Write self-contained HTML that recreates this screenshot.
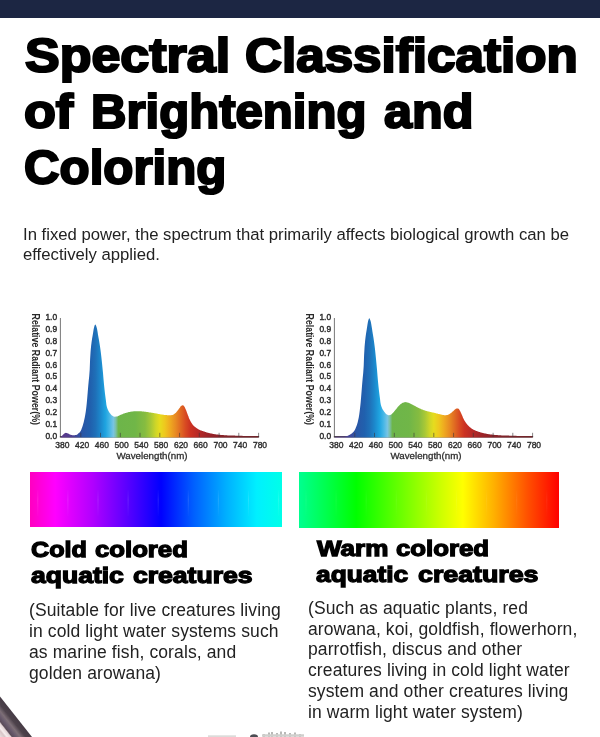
<!DOCTYPE html>
<html><head><meta charset="utf-8">
<style>
html,body{margin:0;padding:0;background:#fff;}
body{width:600px;height:737px;position:relative;overflow:hidden;font-family:"Liberation Sans",sans-serif;color:#000;}
.topbar{position:absolute;left:0;top:0;width:600px;height:17.6px;background:#1c2643;}
.tw{position:absolute;font-size:48px;line-height:56px;font-weight:bold;-webkit-text-stroke:2.2px #000;white-space:nowrap;transform-origin:0 0;}
.hw{position:absolute;font-size:22.3px;line-height:27px;font-weight:bold;-webkit-text-stroke:1.3px #000;white-space:nowrap;transform-origin:0 0;}
.sub{will-change:transform;position:absolute;left:23.4px;top:224.6px;font-size:16.7px;line-height:20px;color:#222;white-space:nowrap;}
.charts{will-change:transform;position:absolute;left:0;top:0;}
.yl{font-size:8.4px;fill:#2e2e2e;stroke:#2e2e2e;stroke-width:0.42px;text-anchor:end;}
.xl{font-size:8.5px;fill:#2e2e2e;stroke:#2e2e2e;stroke-width:0.38px;text-anchor:middle;}
.wl{font-size:9.8px;fill:#2e2e2e;stroke:#2e2e2e;stroke-width:0.3px;text-anchor:middle;}
.rl{font-size:10.2px;fill:#2a2a2a;font-weight:bold;}
.deco{position:absolute;left:0;top:0;}
.bar{position:absolute;}
.p{will-change:transform;position:absolute;font-size:17.5px;line-height:20.7px;letter-spacing:0.11px;color:#222;white-space:nowrap;}
</style></head><body>
<div class="topbar"></div>
<!--T-->
<span class="tw" style="left:25.0px;top:27.5px;transform:scaleX(1.0829)">Spectral</span>
<span class="tw" style="left:245.4px;top:27.5px;transform:scaleX(1.0663)">Classification</span>
<span class="tw" style="left:23.9px;top:84.0px;transform:scaleX(1.0870)">of</span>
<span class="tw" style="left:91.0px;top:84.0px;transform:scaleX(1.0226)">Brightening</span>
<span class="tw" style="left:384.0px;top:84.0px;transform:scaleX(1.0482)">and</span>
<span class="tw" style="left:24.0px;top:140.0px;transform:scaleX(1.0258)">Coloring</span>
<!--/T-->
<div class="sub">In fixed power, the spectrum that primarily affects biological growth can be<br>effectively applied.</div>

<div class="bar" style="left:30px;top:471.8px;width:252px;height:55.7px;background:linear-gradient(90deg,#ff00c0 0%,#ff00ff 10%,#b000ff 25%,#5000ff 40%,#0000ff 52%,#0060ff 65%,#00b0ff 78%,#00f0ff 90%,#00ffe8 100%);"></div>
<div class="bar" style="left:299px;top:472px;width:260px;height:55.5px;background:linear-gradient(90deg,#00ff90 0%,#00ff50 10%,#00ff00 22%,#70ff00 40%,#d0ff00 55%,#ffff00 63%,#ffb000 75%,#ff5000 88%,#ff0000 100%);"></div>

<!--C-->
<svg class="charts" width="600" height="737" viewBox="0 0 600 737">
<linearGradient id="g1" gradientUnits="userSpaceOnUse" x1="61.0" y1="0" x2="258.6" y2="0">
<stop offset="0.0000" stop-color="#5c3a8a"/>
<stop offset="0.0500" stop-color="#503e90"/>
<stop offset="0.0800" stop-color="#3c499b"/>
<stop offset="0.1050" stop-color="#2a55a5"/>
<stop offset="0.1500" stop-color="#2061ae"/>
<stop offset="0.1750" stop-color="#1f70b8"/>
<stop offset="0.2000" stop-color="#1c88cc"/>
<stop offset="0.2250" stop-color="#1fa4e0"/>
<stop offset="0.2450" stop-color="#45b6e6"/>
<stop offset="0.2650" stop-color="#78c4e4"/>
<stop offset="0.2775" stop-color="#7cc0a8"/>
<stop offset="0.2900" stop-color="#6db54a"/>
<stop offset="0.3750" stop-color="#70b648"/>
<stop offset="0.4250" stop-color="#86bc40"/>
<stop offset="0.4550" stop-color="#a8c836"/>
<stop offset="0.4800" stop-color="#cfd628"/>
<stop offset="0.5000" stop-color="#e6dc1e"/>
<stop offset="0.5250" stop-color="#eec81e"/>
<stop offset="0.5500" stop-color="#efac20"/>
<stop offset="0.5800" stop-color="#e88a22"/>
<stop offset="0.6050" stop-color="#e06a22"/>
<stop offset="0.6300" stop-color="#d84a22"/>
<stop offset="0.6550" stop-color="#cc3222"/>
<stop offset="0.6875" stop-color="#bb2a26"/>
<stop offset="0.7375" stop-color="#a02428"/>
<stop offset="0.8000" stop-color="#8a2228"/>
<stop offset="0.9000" stop-color="#7a242a"/>
<stop offset="1.0000" stop-color="#70262a"/>
</linearGradient>
<path d="M60.4 318 V437.4" fill="none" stroke="#686868" stroke-width="0.9"/>
<path d="M59.9 436.8 H259.1" fill="none" stroke="#4a4246" stroke-width="1.5"/>
<path d="M61.0 437.6 L61.0 436.7 L61.5 436.2 L62.0 435.8 L62.5 435.3 L63.0 434.8 L63.5 434.2 L64.0 433.7 L64.5 433.4 L65.0 433.1 L65.4 432.9 L65.9 432.8 L66.4 432.9 L66.9 433.0 L67.4 433.2 L67.9 433.4 L68.4 433.6 L68.9 433.9 L69.4 434.2 L69.9 434.5 L70.4 434.7 L70.9 434.8 L71.4 435.0 L71.9 435.1 L72.4 435.2 L72.9 435.3 L73.3 435.3 L73.8 435.3 L74.3 435.2 L74.8 435.2 L75.3 435.1 L75.8 435.0 L76.3 434.9 L76.8 434.7 L77.3 434.4 L77.8 434.0 L78.3 433.6 L78.8 433.1 L79.3 432.7 L79.8 432.2 L80.3 431.5 L80.8 430.8 L81.3 429.8 L81.7 428.6 L82.2 427.2 L82.7 425.7 L83.2 424.0 L83.7 422.2 L84.2 420.1 L84.7 417.8 L85.2 415.1 L85.7 411.9 L86.2 408.3 L86.7 403.8 L87.2 398.2 L87.7 392.3 L88.2 386.2 L88.7 381.0 L89.2 376.2 L89.7 369.7 L90.1 359.3 L90.6 351.3 L91.1 346.1 L91.6 342.0 L92.1 338.6 L92.6 335.8 L93.1 332.8 L93.6 329.6 L94.1 327.2 L94.6 325.6 L95.1 324.6 L95.6 324.7 L96.1 325.7 L96.6 327.2 L97.1 329.3 L97.6 332.1 L98.0 334.8 L98.5 337.5 L99.0 340.2 L99.5 343.2 L100.0 346.4 L100.5 350.0 L101.0 353.9 L101.5 358.3 L102.0 363.0 L102.5 367.9 L103.0 373.1 L103.5 378.9 L104.0 384.5 L104.5 389.3 L105.0 393.7 L105.5 397.6 L106.0 401.3 L106.4 404.7 L106.9 407.1 L107.4 408.6 L107.9 409.8 L108.4 410.8 L108.9 411.7 L109.4 412.4 L109.9 413.2 L110.4 413.8 L110.9 414.5 L111.4 415.0 L111.9 415.4 L112.4 415.8 L112.9 416.1 L113.4 416.4 L113.9 416.6 L114.4 416.7 L114.8 416.7 L115.3 416.7 L115.8 416.6 L116.3 416.6 L116.8 416.6 L117.3 416.5 L117.8 416.3 L118.3 416.1 L118.8 415.8 L119.3 415.5 L119.8 415.3 L120.3 415.0 L120.8 414.8 L121.3 414.6 L121.8 414.4 L122.3 414.2 L122.8 414.0 L123.2 413.8 L123.7 413.6 L124.2 413.5 L124.7 413.3 L125.2 413.1 L125.7 413.0 L126.2 412.8 L126.7 412.7 L127.2 412.5 L127.7 412.4 L128.2 412.3 L128.7 412.1 L129.2 412.0 L129.7 411.9 L130.2 411.8 L130.7 411.8 L131.1 411.7 L131.6 411.6 L132.1 411.5 L132.6 411.4 L133.1 411.4 L133.6 411.3 L134.1 411.3 L134.6 411.3 L135.1 411.2 L135.6 411.2 L136.1 411.2 L136.6 411.2 L137.1 411.2 L137.6 411.2 L138.1 411.2 L138.6 411.2 L139.1 411.2 L139.5 411.2 L140.0 411.2 L140.5 411.3 L141.0 411.3 L141.5 411.3 L142.0 411.4 L142.5 411.4 L143.0 411.5 L143.5 411.5 L144.0 411.6 L144.5 411.7 L145.0 411.7 L145.5 411.8 L146.0 411.8 L146.5 411.9 L147.0 412.0 L147.4 412.0 L147.9 412.1 L148.4 412.2 L148.9 412.3 L149.4 412.4 L149.9 412.4 L150.4 412.5 L150.9 412.6 L151.4 412.7 L151.9 412.7 L152.4 412.8 L152.9 412.9 L153.4 413.0 L153.9 413.1 L154.4 413.2 L154.9 413.3 L155.4 413.3 L155.8 413.4 L156.3 413.5 L156.8 413.6 L157.3 413.7 L157.8 413.8 L158.3 413.9 L158.8 414.0 L159.3 414.1 L159.8 414.2 L160.3 414.3 L160.8 414.4 L161.3 414.4 L161.8 414.5 L162.3 414.6 L162.8 414.7 L163.3 414.7 L163.8 414.8 L164.2 414.9 L164.7 414.9 L165.2 415.0 L165.7 415.0 L166.2 415.1 L166.7 415.1 L167.2 415.2 L167.7 415.2 L168.2 415.2 L168.7 415.2 L169.2 415.3 L169.7 415.3 L170.2 415.3 L170.7 415.2 L171.2 415.2 L171.7 415.1 L172.2 415.0 L172.6 414.9 L173.1 414.7 L173.6 414.4 L174.1 414.1 L174.6 413.7 L175.1 413.3 L175.6 412.9 L176.1 412.4 L176.6 411.8 L177.1 411.2 L177.6 410.6 L178.1 410.0 L178.6 409.3 L179.1 408.6 L179.6 407.9 L180.1 407.3 L180.5 406.6 L181.0 406.1 L181.5 405.7 L182.0 405.4 L182.5 405.2 L183.0 405.3 L183.5 405.6 L184.0 406.2 L184.5 406.8 L185.0 407.8 L185.5 408.9 L186.0 410.1 L186.5 411.3 L187.0 412.7 L187.5 414.1 L188.0 415.4 L188.5 416.6 L188.9 417.9 L189.4 419.1 L189.9 420.1 L190.4 421.1 L190.9 422.0 L191.4 422.8 L191.9 423.6 L192.4 424.3 L192.9 424.9 L193.4 425.4 L193.9 425.9 L194.4 426.4 L194.9 426.8 L195.4 427.2 L195.9 427.6 L196.4 428.0 L196.8 428.3 L197.3 428.6 L197.8 428.9 L198.3 429.2 L198.8 429.5 L199.3 429.7 L199.8 429.9 L200.3 430.2 L200.8 430.4 L201.3 430.6 L201.8 430.7 L202.3 430.9 L202.8 431.1 L203.3 431.3 L203.8 431.5 L204.3 431.6 L204.8 431.8 L205.2 432.0 L205.7 432.1 L206.2 432.3 L206.7 432.4 L207.2 432.6 L207.7 432.7 L208.2 432.8 L208.7 433.0 L209.2 433.1 L209.7 433.2 L210.2 433.3 L210.7 433.4 L211.2 433.5 L211.7 433.6 L212.2 433.7 L212.7 433.8 L213.2 433.9 L213.6 434.0 L214.1 434.1 L214.6 434.2 L215.1 434.2 L215.6 434.3 L216.1 434.4 L216.6 434.4 L217.1 434.5 L217.6 434.6 L218.1 434.6 L218.6 434.7 L219.1 434.7 L219.6 434.8 L220.1 434.8 L220.6 434.9 L221.1 434.9 L221.6 435.0 L222.0 435.0 L222.5 435.1 L223.0 435.1 L223.5 435.1 L224.0 435.2 L224.5 435.2 L225.0 435.2 L225.5 435.2 L226.0 435.3 L226.5 435.3 L227.0 435.3 L227.5 435.4 L228.0 435.4 L228.5 435.4 L229.0 435.4 L229.5 435.4 L229.9 435.5 L230.4 435.5 L230.9 435.5 L231.4 435.5 L231.9 435.5 L232.4 435.6 L232.9 435.6 L233.4 435.6 L233.9 435.6 L234.4 435.6 L234.9 435.6 L235.4 435.7 L235.9 435.7 L236.4 435.7 L236.9 435.7 L237.4 435.7 L237.9 435.7 L238.3 435.7 L238.8 435.8 L239.3 435.8 L239.8 435.8 L240.3 435.8 L240.8 435.8 L241.3 435.8 L241.8 435.8 L242.3 435.8 L242.8 435.9 L243.3 435.9 L243.8 435.9 L244.3 435.9 L244.8 435.9 L245.3 435.9 L245.8 435.9 L246.2 435.9 L246.7 436.0 L247.2 436.0 L247.7 436.0 L248.2 436.0 L248.7 436.0 L249.2 436.0 L249.7 436.0 L250.2 436.0 L250.7 436.0 L251.2 436.0 L251.7 436.0 L252.2 436.0 L252.7 436.0 L253.2 436.1 L253.7 436.1 L254.2 436.1 L254.6 436.1 L255.1 436.1 L255.6 436.1 L256.1 436.1 L256.6 436.1 L257.1 436.1 L257.6 436.1 L258.1 436.1 L258.6 436.1 L258.6 437.6 Z" fill="url(#g1)"/>
<path d="M80.8 437 v-4.2M100.5 437 v-4.2M120.3 437 v-4.2M140.0 437 v-4.2M159.8 437 v-4.2M179.6 437 v-4.2M199.3 437 v-4.2M219.1 437 v-4.2M238.8 437 v-4.2M258.6 437 v-4.2" stroke="#3a3438" stroke-width="0.8" opacity="0.75" fill="none"/>
<text class="yl" x="57.1" y="439.2">0.0</text>
<text class="yl" x="57.1" y="427.2">0.1</text>
<text class="yl" x="57.1" y="415.3">0.2</text>
<text class="yl" x="57.1" y="403.3">0.3</text>
<text class="yl" x="57.1" y="391.4">0.4</text>
<text class="yl" x="57.1" y="379.4">0.5</text>
<text class="yl" x="57.1" y="367.5">0.6</text>
<text class="yl" x="57.1" y="355.6">0.7</text>
<text class="yl" x="57.1" y="343.6">0.8</text>
<text class="yl" x="57.1" y="331.6">0.9</text>
<text class="yl" x="57.1" y="319.7">1.0</text>
<text class="xl" x="62.4" y="447.6">380</text>
<text class="xl" x="82.2" y="447.6">420</text>
<text class="xl" x="101.9" y="447.6">460</text>
<text class="xl" x="121.7" y="447.6">500</text>
<text class="xl" x="141.4" y="447.6">540</text>
<text class="xl" x="161.2" y="447.6">580</text>
<text class="xl" x="181.0" y="447.6">620</text>
<text class="xl" x="200.7" y="447.6">660</text>
<text class="xl" x="220.5" y="447.6">700</text>
<text class="xl" x="240.2" y="447.6">740</text>
<text class="xl" x="260.0" y="447.6">780</text>
<text class="wl" x="152.0" y="459.2" textLength="71" lengthAdjust="spacingAndGlyphs">Wavelength(nm)</text>
<text class="rl" transform="translate(32.3 313.5) rotate(90)" textLength="111.5" lengthAdjust="spacingAndGlyphs">Relative Radiant Power(%)</text>
<linearGradient id="g2" gradientUnits="userSpaceOnUse" x1="335.0" y1="0" x2="532.6" y2="0">
<stop offset="0.0000" stop-color="#5c3a8a"/>
<stop offset="0.0500" stop-color="#503e90"/>
<stop offset="0.0800" stop-color="#3c499b"/>
<stop offset="0.1050" stop-color="#2a55a5"/>
<stop offset="0.1500" stop-color="#2061ae"/>
<stop offset="0.1750" stop-color="#1f70b8"/>
<stop offset="0.2000" stop-color="#1c88cc"/>
<stop offset="0.2250" stop-color="#1fa4e0"/>
<stop offset="0.2450" stop-color="#45b6e6"/>
<stop offset="0.2650" stop-color="#78c4e4"/>
<stop offset="0.2775" stop-color="#7cc0a8"/>
<stop offset="0.2900" stop-color="#6db54a"/>
<stop offset="0.3750" stop-color="#70b648"/>
<stop offset="0.4250" stop-color="#86bc40"/>
<stop offset="0.4550" stop-color="#a8c836"/>
<stop offset="0.4800" stop-color="#cfd628"/>
<stop offset="0.5000" stop-color="#e6dc1e"/>
<stop offset="0.5250" stop-color="#eec81e"/>
<stop offset="0.5500" stop-color="#efac20"/>
<stop offset="0.5800" stop-color="#e88a22"/>
<stop offset="0.6050" stop-color="#e06a22"/>
<stop offset="0.6300" stop-color="#d84a22"/>
<stop offset="0.6550" stop-color="#cc3222"/>
<stop offset="0.6875" stop-color="#bb2a26"/>
<stop offset="0.7375" stop-color="#a02428"/>
<stop offset="0.8000" stop-color="#8a2228"/>
<stop offset="0.9000" stop-color="#7a242a"/>
<stop offset="1.0000" stop-color="#70262a"/>
</linearGradient>
<path d="M334.4 318 V437.4" fill="none" stroke="#686868" stroke-width="0.9"/>
<path d="M333.9 436.8 H533.1" fill="none" stroke="#4a4246" stroke-width="1.5"/>
<path d="M335.0 437.6 L335.0 436.7 L335.5 436.7 L336.0 436.7 L336.5 436.7 L337.0 436.7 L337.5 436.7 L338.0 436.7 L338.5 436.7 L339.0 436.7 L339.4 436.7 L339.9 436.6 L340.4 436.6 L340.9 436.6 L341.4 436.6 L341.9 436.6 L342.4 436.6 L342.9 436.6 L343.4 436.5 L343.9 436.5 L344.4 436.4 L344.9 436.4 L345.4 436.3 L345.9 436.2 L346.4 436.1 L346.9 436.0 L347.4 435.9 L347.8 435.7 L348.3 435.5 L348.8 435.3 L349.3 435.0 L349.8 434.8 L350.3 434.5 L350.8 434.1 L351.3 433.8 L351.8 433.4 L352.3 433.0 L352.8 432.5 L353.3 432.0 L353.8 431.4 L354.3 430.8 L354.8 430.0 L355.3 429.1 L355.7 428.0 L356.2 426.8 L356.7 425.5 L357.2 424.0 L357.7 422.2 L358.2 420.1 L358.7 417.8 L359.2 414.8 L359.7 411.1 L360.2 406.8 L360.7 401.9 L361.2 396.0 L361.7 389.8 L362.2 383.4 L362.7 377.9 L363.2 372.9 L363.7 366.0 L364.1 355.0 L364.6 346.5 L365.1 341.1 L365.6 336.8 L366.1 333.2 L366.6 330.2 L367.1 327.1 L367.6 323.7 L368.1 321.1 L368.6 319.4 L369.1 318.3 L369.6 318.6 L370.1 319.7 L370.6 321.1 L371.1 323.3 L371.6 326.3 L372.1 329.2 L372.5 332.0 L373.0 334.9 L373.5 338.1 L374.0 341.5 L374.5 345.2 L375.0 349.3 L375.5 353.9 L376.0 358.9 L376.5 364.2 L377.0 369.6 L377.5 375.8 L378.0 381.6 L378.5 386.5 L379.0 390.9 L379.5 394.9 L380.0 398.7 L380.4 402.3 L380.9 404.9 L381.4 406.5 L381.9 407.8 L382.4 408.9 L382.9 409.8 L383.4 410.5 L383.9 411.2 L384.4 411.9 L384.9 412.6 L385.4 413.3 L385.9 413.8 L386.4 414.2 L386.9 414.5 L387.4 414.8 L387.9 415.0 L388.4 415.2 L388.8 415.3 L389.3 415.2 L389.8 415.1 L390.3 414.9 L390.8 414.7 L391.3 414.4 L391.8 414.0 L392.3 413.5 L392.8 413.0 L393.3 412.4 L393.8 411.9 L394.3 411.3 L394.8 410.7 L395.3 410.1 L395.8 409.5 L396.3 408.9 L396.8 408.3 L397.2 407.7 L397.7 407.1 L398.2 406.5 L398.7 406.0 L399.2 405.4 L399.7 405.0 L400.2 404.5 L400.7 404.1 L401.2 403.7 L401.7 403.4 L402.2 403.1 L402.7 402.8 L403.2 402.7 L403.7 402.5 L404.2 402.3 L404.7 402.2 L405.1 402.2 L405.6 402.1 L406.1 402.2 L406.6 402.2 L407.1 402.4 L407.6 402.5 L408.1 402.7 L408.6 402.8 L409.1 403.0 L409.6 403.2 L410.1 403.5 L410.6 403.7 L411.1 404.0 L411.6 404.2 L412.1 404.5 L412.6 404.7 L413.1 405.0 L413.5 405.3 L414.0 405.5 L414.5 405.8 L415.0 406.1 L415.5 406.3 L416.0 406.6 L416.5 406.9 L417.0 407.1 L417.5 407.4 L418.0 407.6 L418.5 407.9 L419.0 408.1 L419.5 408.4 L420.0 408.6 L420.5 408.8 L421.0 409.0 L421.4 409.2 L421.9 409.4 L422.4 409.6 L422.9 409.8 L423.4 410.0 L423.9 410.2 L424.4 410.3 L424.9 410.5 L425.4 410.7 L425.9 410.8 L426.4 411.0 L426.9 411.1 L427.4 411.2 L427.9 411.4 L428.4 411.5 L428.9 411.6 L429.4 411.7 L429.8 411.8 L430.3 412.0 L430.8 412.1 L431.3 412.2 L431.8 412.3 L432.3 412.4 L432.8 412.5 L433.3 412.6 L433.8 412.7 L434.3 412.8 L434.8 413.0 L435.3 413.1 L435.8 413.2 L436.3 413.4 L436.8 413.5 L437.3 413.6 L437.8 413.7 L438.2 413.9 L438.7 414.0 L439.2 414.1 L439.7 414.2 L440.2 414.3 L440.7 414.4 L441.2 414.6 L441.7 414.7 L442.2 414.8 L442.7 414.9 L443.2 415.0 L443.7 415.1 L444.2 415.2 L444.7 415.3 L445.2 415.3 L445.7 415.3 L446.1 415.2 L446.6 415.1 L447.1 415.0 L447.6 414.9 L448.1 414.8 L448.6 414.5 L449.1 414.2 L449.6 413.9 L450.1 413.6 L450.6 413.3 L451.1 412.9 L451.6 412.5 L452.1 412.0 L452.6 411.6 L453.1 411.2 L453.6 410.7 L454.1 410.3 L454.5 409.8 L455.0 409.5 L455.5 409.1 L456.0 408.8 L456.5 408.5 L457.0 408.4 L457.5 408.5 L458.0 408.6 L458.5 408.8 L459.0 409.2 L459.5 409.9 L460.0 410.9 L460.5 411.8 L461.0 412.9 L461.5 414.0 L462.0 415.2 L462.5 416.3 L462.9 417.4 L463.4 418.4 L463.9 419.4 L464.4 420.4 L464.9 421.2 L465.4 422.0 L465.9 422.8 L466.4 423.4 L466.9 424.1 L467.4 424.7 L467.9 425.3 L468.4 425.8 L468.9 426.3 L469.4 426.8 L469.9 427.2 L470.4 427.6 L470.9 428.0 L471.3 428.3 L471.8 428.7 L472.3 429.0 L472.8 429.3 L473.3 429.6 L473.8 429.9 L474.3 430.1 L474.8 430.3 L475.3 430.5 L475.8 430.7 L476.3 430.9 L476.8 431.1 L477.3 431.3 L477.8 431.5 L478.3 431.7 L478.8 431.8 L479.2 432.0 L479.7 432.1 L480.2 432.3 L480.7 432.4 L481.2 432.6 L481.7 432.7 L482.2 432.8 L482.7 433.0 L483.2 433.1 L483.7 433.2 L484.2 433.3 L484.7 433.4 L485.2 433.5 L485.7 433.6 L486.2 433.7 L486.7 433.8 L487.2 433.9 L487.6 434.0 L488.1 434.1 L488.6 434.2 L489.1 434.2 L489.6 434.3 L490.1 434.4 L490.6 434.4 L491.1 434.5 L491.6 434.6 L492.1 434.6 L492.6 434.7 L493.1 434.7 L493.6 434.8 L494.1 434.8 L494.6 434.9 L495.1 434.9 L495.6 435.0 L496.0 435.0 L496.5 435.1 L497.0 435.1 L497.5 435.1 L498.0 435.2 L498.5 435.2 L499.0 435.2 L499.5 435.2 L500.0 435.3 L500.5 435.3 L501.0 435.3 L501.5 435.4 L502.0 435.4 L502.5 435.4 L503.0 435.4 L503.5 435.4 L503.9 435.5 L504.4 435.5 L504.9 435.5 L505.4 435.5 L505.9 435.5 L506.4 435.6 L506.9 435.6 L507.4 435.6 L507.9 435.6 L508.4 435.6 L508.9 435.6 L509.4 435.7 L509.9 435.7 L510.4 435.7 L510.9 435.7 L511.4 435.7 L511.9 435.7 L512.3 435.7 L512.8 435.8 L513.3 435.8 L513.8 435.8 L514.3 435.8 L514.8 435.8 L515.3 435.8 L515.8 435.8 L516.3 435.8 L516.8 435.9 L517.3 435.9 L517.8 435.9 L518.3 435.9 L518.8 435.9 L519.3 435.9 L519.8 435.9 L520.2 435.9 L520.7 436.0 L521.2 436.0 L521.7 436.0 L522.2 436.0 L522.7 436.0 L523.2 436.0 L523.7 436.0 L524.2 436.0 L524.7 436.0 L525.2 436.0 L525.7 436.0 L526.2 436.0 L526.7 436.0 L527.2 436.1 L527.7 436.1 L528.2 436.1 L528.6 436.1 L529.1 436.1 L529.6 436.1 L530.1 436.1 L530.6 436.1 L531.1 436.1 L531.6 436.1 L532.1 436.1 L532.6 436.1 L532.6 437.6 Z" fill="url(#g2)"/>
<path d="M354.8 437 v-4.2M374.5 437 v-4.2M394.3 437 v-4.2M414.0 437 v-4.2M433.8 437 v-4.2M453.6 437 v-4.2M473.3 437 v-4.2M493.1 437 v-4.2M512.8 437 v-4.2M532.6 437 v-4.2" stroke="#3a3438" stroke-width="0.8" opacity="0.75" fill="none"/>
<text class="yl" x="331.1" y="439.2">0.0</text>
<text class="yl" x="331.1" y="427.2">0.1</text>
<text class="yl" x="331.1" y="415.3">0.2</text>
<text class="yl" x="331.1" y="403.3">0.3</text>
<text class="yl" x="331.1" y="391.4">0.4</text>
<text class="yl" x="331.1" y="379.4">0.5</text>
<text class="yl" x="331.1" y="367.5">0.6</text>
<text class="yl" x="331.1" y="355.6">0.7</text>
<text class="yl" x="331.1" y="343.6">0.8</text>
<text class="yl" x="331.1" y="331.6">0.9</text>
<text class="yl" x="331.1" y="319.7">1.0</text>
<text class="xl" x="336.4" y="447.6">380</text>
<text class="xl" x="356.2" y="447.6">420</text>
<text class="xl" x="375.9" y="447.6">460</text>
<text class="xl" x="395.7" y="447.6">500</text>
<text class="xl" x="415.4" y="447.6">540</text>
<text class="xl" x="435.2" y="447.6">580</text>
<text class="xl" x="455.0" y="447.6">620</text>
<text class="xl" x="474.7" y="447.6">660</text>
<text class="xl" x="494.5" y="447.6">700</text>
<text class="xl" x="514.2" y="447.6">740</text>
<text class="xl" x="534.0" y="447.6">780</text>
<text class="wl" x="426.0" y="459.2" textLength="71" lengthAdjust="spacingAndGlyphs">Wavelength(nm)</text>
<text class="rl" transform="translate(306.3 313.5) rotate(90)" textLength="111.5" lengthAdjust="spacingAndGlyphs">Relative Radiant Power(%)</text>
</svg>
<!--/C-->
<!--H-->
<span class="hw" style="left:30.5px;top:535.5px;transform:scaleX(1.1276)">Cold</span>
<span class="hw" style="left:94.5px;top:535.5px;transform:scaleX(1.1531)">colored</span>
<span class="hw" style="left:30.5px;top:561.8px;transform:scaleX(1.1891)">aquatic</span>
<span class="hw" style="left:133.0px;top:561.8px;transform:scaleX(1.1900)">creatures</span>
<span class="hw" style="left:316.7px;top:534.5px;transform:scaleX(1.1680)">Warm</span>
<span class="hw" style="left:396.2px;top:534.5px;transform:scaleX(1.1562)">colored</span>
<span class="hw" style="left:316.2px;top:561.0px;transform:scaleX(1.1795)">aquatic</span>
<span class="hw" style="left:418.0px;top:561.0px;transform:scaleX(1.2000)">creatures</span>
<!--/H-->

<div class="p" style="left:28.6px;top:599.5px;line-height:20.85px;">(Suitable for live creatures living<br>in cold light water systems such<br>as marine fish, corals, and<br>golden arowana)</div>
<div class="p" style="left:307.6px;top:597.5px;">(Such as aquatic plants, red<br>arowana, koi, goldfish, flowerhorn,<br>parrotfish, discus and other<br>creatures living in cold light water<br>system and other creatures living<br>in warm light water system)</div>
<!--D-->
<svg class="deco" width="600" height="737" viewBox="0 0 600 737">
<defs>
<linearGradient id="dg" gradientUnits="userSpaceOnUse" x1="16" y1="716.5" x2="-6.6" y2="734.3">
<stop offset="0" stop-color="#453a44"/><stop offset="0.18" stop-color="#4e434c"/><stop offset="0.32" stop-color="#7d6f77"/><stop offset="0.45" stop-color="#65576a"/><stop offset="0.54" stop-color="#5a4c58"/><stop offset="0.58" stop-color="#e2d4d6"/><stop offset="0.68" stop-color="#f6eeee"/><stop offset="0.74" stop-color="#d8c6c8"/><stop offset="0.86" stop-color="#e8dcdc"/><stop offset="1" stop-color="#c0aeb2"/>
</linearGradient>
<linearGradient id="fl" gradientUnits="userSpaceOnUse" x1="0" y1="488" x2="0" y2="518"><stop offset="0" stop-color="#fff" stop-opacity="0"/><stop offset="0.4" stop-color="#fff" stop-opacity="0.13"/><stop offset="1" stop-color="#fff" stop-opacity="0"/></linearGradient>
<filter id="bl"><feGaussianBlur stdDeviation="0.6"/></filter>
</defs>
<path d="M37.8 490 V516 M67.9 490 V516 M98.0 490 V516 M128.1 490 V516 M158.2 490 V516 M188.3 490 V516 M218.4 490 V516 M248.5 490 V516 M278.6 490 V516" stroke="url(#fl)" stroke-width="1" fill="none"/>
<path d="M306.0 490 V516 M336.1 490 V516 M366.2 490 V516 M396.3 490 V516 M426.4 490 V516 M456.5 490 V516 M486.6 490 V516 M516.7 490 V516 M546.8 490 V516" stroke="url(#fl)" stroke-width="1" fill="none" opacity="0.5"/>
<polygon points="0,696.5 32,737 0,737" fill="url(#dg)" filter="url(#bl)"/>
<g filter="url(#bl)">
<rect x="208" y="735.3" width="28" height="2" fill="#dcdcda"/>
<ellipse cx="254" cy="737" rx="4" ry="2.8" fill="#4c4d52"/>
<path d="M264 737 v-3 M269 737 v-4.5 M272 737 v-5 M277 737 v-4 M281 737 v-5.5 M285 737 v-5 M290 737 v-4 M295 737 v-4.5 M300 737 v-3" fill="none" stroke="#a8a8a6" stroke-width="1.6"/>
<path d="M262 735.5 h42" fill="none" stroke="#cfcfcd" stroke-width="2.5"/>
</g>
</svg>
<!--/D-->
</body></html>
